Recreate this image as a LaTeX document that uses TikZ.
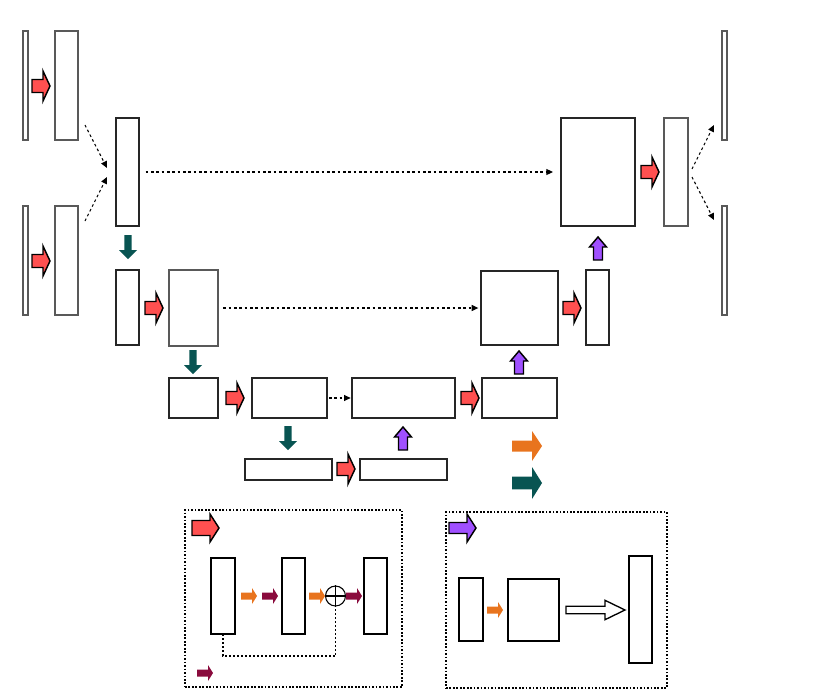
\documentclass[tikz,border=0pt]{standalone}
\usetikzlibrary{arrows.meta,fit}
\definecolor{cred}{RGB}{255,80,80}
\definecolor{cteal}{RGB}{8,84,82}
\definecolor{cpurp}{RGB}{160,80,255}
\definecolor{corange}{RGB}{232,116,30}
\definecolor{cmaroon}{RGB}{138,11,61}
\tikzset{
  box/.style={draw=black!85,line width=0.9pt,fill=white,inner sep=0pt,outer sep=0pt},
  gbox/.style={draw=black!65,line width=0.9pt,fill=white,inner sep=0pt,outer sep=0pt},
  kbox/.style={draw=black,line width=1.2pt,fill=white,inner sep=0pt,outer sep=0pt},
  frame/.style={draw=black,line width=0.8pt,dash pattern=on 1.3pt off 1.3pt,inner sep=0pt},
  darr/.style={draw=black,line width=0.8pt,dash pattern=on 2pt off 2pt,-{Triangle[length=5pt,width=4.5pt]}},
  redA/.style={fill=cred,draw=black,line width=1.1pt,line join=miter},
  purA/.style={fill=cpurp,draw=black,line width=1.1pt,line join=miter},
  tealA/.style={fill=cteal,draw=none},
  orA/.style={fill=corange,draw=none},
  maA/.style={fill=cmaroon,draw=none},
  holA/.style={fill=white,draw=black,line width=1pt},
}
% style, x, y, angle, length, shaft half, head half, head length
\newcommand\blk[8]{%
  \begin{scope}[shift={(#2,#3)},rotate=#4]
    \draw[#1] (0,-#6)--(#5-#8,-#6)--(#5-#8,-#7)--(#5,0)--(#5-#8,#7)--(#5-#8,#6)--(0,#6)--cycle;
  \end{scope}}
\newcommand\bx[6]{\node[#1,fit={(#3,#4) (#5,#6)}] (#2) {};}
\begin{document}
\begin{tikzpicture}[x=0.75pt,y=-0.75pt]
\useasboundingbox (0,0) rectangle (829,689);
% boxes
\bx{gbox}{S1}{23}{31}{28}{140}
\bx{gbox}{L1}{55}{31}{78}{140}
\bx{gbox}{S2}{23}{206}{28}{315}
\bx{gbox}{L2}{55}{206}{78}{315}
\bx{box}{A}{116}{118}{139}{226}
\bx{box}{B1}{116}{270}{139}{345}
\bx{gbox}{B2}{169}{270}{218}{346}
\bx{box}{C1}{169}{378}{218}{418}
\bx{box}{C2}{252}{378}{327}{418}
\bx{box}{C3}{352}{378}{455}{418}
\bx{box}{C4}{482}{378}{557}{418}
\bx{box}{D1}{245}{459}{332}{480}
\bx{box}{D2}{360}{459}{447}{480}
\bx{box}{B3}{481}{271}{558}{345}
\bx{box}{B4}{586}{270}{609}{345}
\bx{box}{T1}{561}{118}{635}{226}
\bx{gbox}{T2}{664}{118}{688}{226}
\bx{gbox}{R1}{722}{31}{727}{140}
\bx{gbox}{R2}{722}{206}{727}{315}
% dotted connectors
\coordinate (l1o) at (85,125); \coordinate (l2o) at (85,221);
\coordinate (ai1) at (107,168); \coordinate (ai2) at (107,177);
\coordinate (t2o1) at (692,169); \coordinate (t2o2) at (692,177);
\coordinate (r1i) at (714,125); \coordinate (r2i) at (714,220);
\draw[darr] (l1o) -- (ai1);
\draw[darr] (l2o) -- (ai2);
\draw[darr] (t2o1) -- (r1i);
\draw[darr] (t2o2) -- (r2i);
\draw[darr,shorten <=5pt,shorten >=6pt] (A.east) -- (T1.west);
\draw[darr,shorten <=4pt,shorten >=2pt] (B2.east) -- (B3.west);
\draw[darr,shorten <=1.5pt,shorten >=1pt] (C2.east) -- (C3.west);
% red block arrows
\blk{redA}{32}{86}{0}{18}{6.5}{15}{7}
\blk{redA}{32}{261}{0}{18}{6.5}{15}{7}
\blk{redA}{145}{308}{0}{18}{6.5}{15}{7}
\blk{redA}{226}{398}{0}{18}{6.5}{15}{7}
\blk{redA}{461}{398}{0}{18}{6.5}{15}{7}
\blk{redA}{337}{469}{0}{18}{6.5}{15}{7}
\blk{redA}{563}{308}{0}{18}{6.5}{15}{7}
\blk{redA}{641}{172}{0}{18}{6.5}{15}{7}
% teal down arrows
\blk{tealA}{128}{235}{-90}{24}{3.7}{9}{9}
\blk{tealA}{193}{350}{-90}{24}{3.7}{9}{9}
\blk{tealA}{288}{426}{-90}{24}{3.7}{9}{9}
% purple up arrows
\blk{purA}{598}{260}{90}{23}{4.5}{8.5}{10}
\blk{purA}{519}{374}{90}{23}{4.5}{8.5}{10}
\blk{purA}{403}{450}{90}{23}{4.5}{8.5}{10}
% legend arrows
\blk{orA}{512}{446}{0}{30}{5.5}{15}{10}
\blk{tealA}{512}{483}{0}{30}{6.3}{16}{10}
% residual block legend
\node[frame,fit={(185,510) (402,687)}] (P) {};
\blk{redA}{192}{528}{0}{27}{7.5}{14}{9}
\bx{kbox}{E1}{211}{558}{235}{634}
\bx{kbox}{E2}{282}{558}{305}{634}
\bx{kbox}{E3}{364}{558}{387}{634}
\node[draw=black,line width=0.8pt,circle,minimum size=15pt,inner sep=0pt] (plus) at (335.5,596) {};
\draw[line width=1pt] (plus.north) -- (plus.south) (plus.west) -- (plus.east);
\blk{orA}{241}{596}{0}{16}{3.5}{8}{5}
\blk{maA}{262}{596}{0}{16}{3.5}{8}{5}
\blk{orA}{309}{596}{0}{16}{3.5}{8}{5}
\blk{maA}{346}{596}{0}{16}{3.5}{8}{5}
\draw[line width=0.8pt,dash pattern=on 1.5pt off 1.5pt] (E1.south) -- ++(0,22) -| (plus.south);
\blk{maA}{197}{673}{0}{16}{3.5}{8}{5}
% upsampling legend
\node[frame,fit={(446,512) (667,688)}] (Q) {};
\blk{purA}{449}{528}{0}{27}{5.5}{14}{9}
\bx{kbox}{F1}{459}{578}{483}{641}
\bx{kbox}{F2}{508}{579}{559}{641}
\bx{kbox}{F3}{629}{556}{652}{663}
\blk{orA}{487}{610}{0}{16}{3.5}{8}{5}
\blk{holA}{566}{610}{0}{59}{3.7}{9.7}{20}
\end{tikzpicture}
\end{document}
